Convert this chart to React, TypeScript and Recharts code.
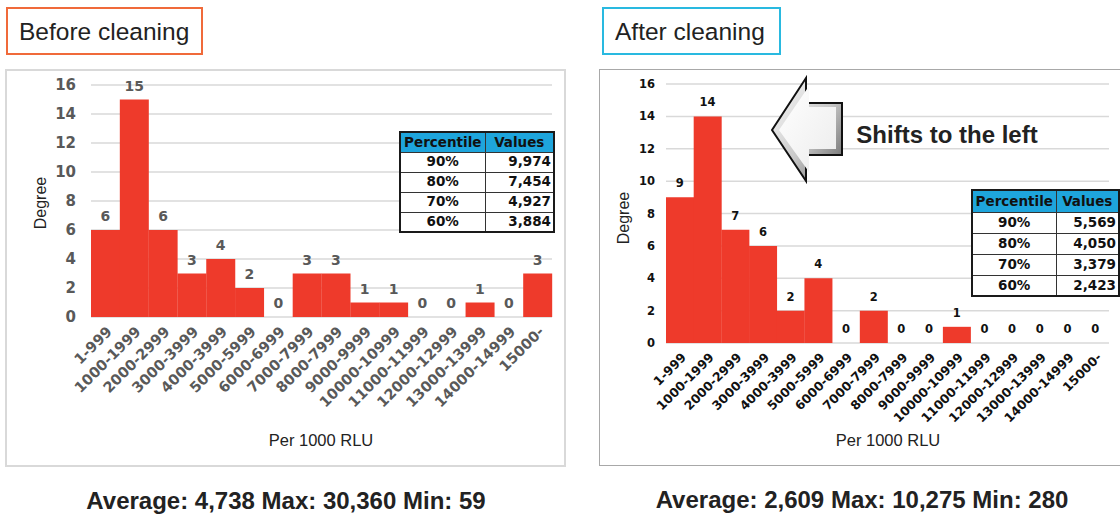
import React from 'react';
import { ComposedChart, Bar, Line, XAxis, YAxis, CartesianGrid, LabelList } from 'recharts';

const ranges = [
  '1-999', '1000-1999', '2000-2999', '3000-3999', '4000-3999', '5000-5999',
  '6000-6999', '7000-7999', '8000-7999', '9000-9999', '10000-10999',
  '11000-11999', '12000-12999', '13000-13999', '14000-14999', '15000-',
];
const beforeCounts = [6, 15, 6, 3, 4, 2, 0, 3, 3, 1, 1, 0, 0, 1, 0, 3];
const afterCounts = [9, 14, 7, 6, 2, 4, 0, 2, 0, 0, 1, 0, 0, 0, 0, 0];
const yTicks = [0, 2, 4, 6, 8, 10, 12, 14, 16];

const percentiles = ['90%', '80%', '70%', '60%'];
const beforePercentileValues = ['9,974', '7,454', '4,927', '3,884'];
const afterPercentileValues = ['5,569', '4,050', '3,379', '2,423'];

const beforeSummary = 'Average: 4,738 Max: 30,360 Min: 59';
const afterSummary = 'Average: 2,609 Max: 10,275 Min: 280';

const RED = '#ee3a2b';
const GRID = '#d9d9d9';
const SANS = '"Liberation Sans", Arial, sans-serif';
const AXIS_FONT = '"DejaVu Sans", Verdana, sans-serif';

const beforeData = ranges.map((range, i) => ({ range, count: beforeCounts[i] }));
const afterData = ranges.map((range, i) => ({ range, count: afterCounts[i] }));

function RangeTick(props: any) {
  const { x, y, payload, fontSize, fill } = props;
  const ax = x + 4;
  return (
    <text
      x={ax}
      y={y}
      transform={`rotate(-45 ${ax} ${y})`}
      textAnchor="end"
      dominantBaseline="central"
      fontSize={fontSize}
      fontWeight="bold"
      fontFamily={AXIS_FONT}
      fill={fill}
    >
      {payload.value}
    </text>
  );
}

function Histogram({ data, width, margin, tickMargin, xFont, yFont, labelFont, labelOffset, color }: any) {
  return (
    <ComposedChart
      width={width}
      height={480}
      data={data}
      margin={margin}
      barCategoryGap={0}
      barGap={0}
    >
      <CartesianGrid vertical={false} stroke={GRID} strokeWidth={1.5} />
      <XAxis
        dataKey="range"
        interval={0}
        axisLine={false}
        tickLine={false}
        tickSize={0}
        tickMargin={12}
        height={100}
        tick={(p: any) => <RangeTick {...p} fontSize={xFont} fill={color} />}
      />
      <YAxis
        domain={[0, 16]}
        ticks={yTicks}
        width={40}
        axisLine={false}
        tickLine={false}
        tickSize={0}
        tickMargin={tickMargin}
        tick={{ fill: color, fontSize: yFont, fontWeight: 'bold', fontFamily: AXIS_FONT }}
      />
      <Bar dataKey="count" fill={RED} isAnimationActive={false} />
      {/* invisible series so every count, zeros included, gets its label */}
      <Line
        dataKey="count"
        stroke="none"
        dot={false}
        activeDot={false}
        isAnimationActive={false}
      >
        <LabelList
          dataKey="count"
          position="top"
          offset={labelOffset}
          fill={color}
          fontSize={labelFont}
          fontWeight="bold"
          fontFamily={AXIS_FONT}
        />
      </Line>
    </ComposedChart>
  );
}

function PercentileTable({ values, left, top, rowH, headH, col1, col2 }: any) {
  const cell: React.CSSProperties = {
    border: '1px solid #333',
    padding: '0 2px',
    fontFamily: AXIS_FONT,
    fontWeight: 'bold',
    fontSize: 13.5,
    color: '#111',
    lineHeight: 1,
    overflow: 'hidden',
    whiteSpace: 'nowrap',
  };
  return (
    <table
      style={{
        position: 'absolute',
        left,
        top,
        width: col1 + col2,
        borderCollapse: 'collapse',
        border: '2px solid #1a1a1a',
        background: '#fff',
        tableLayout: 'fixed',
      }}
    >
      <colgroup>
        <col style={{ width: col1 }} />
        <col style={{ width: col2 }} />
      </colgroup>
      <tbody>
        <tr style={{ height: headH, background: '#1ea5dc' }}>
          <td style={{ ...cell, textAlign: 'center' }}>Percentile</td>
          <td style={{ ...cell, textAlign: 'center' }}>Values</td>
        </tr>
        {percentiles.map((p, i) => (
          <tr key={p} style={{ height: rowH }}>
            <td style={{ ...cell, textAlign: 'center' }}>{p}</td>
            <td style={{ ...cell, textAlign: 'right' }}>{values[i]}</td>
          </tr>
        ))}
      </tbody>
    </table>
  );
}

function TitleBox({ text, left, width, color }: any) {
  return (
    <div
      style={{
        position: 'absolute',
        left,
        top: 7,
        width,
        height: 48,
        boxSizing: 'border-box',
        border: `2px solid ${color}`,
        fontFamily: SANS,
        fontSize: 24.5,
        color: '#222',
        lineHeight: '46px',
        paddingLeft: 11,
        whiteSpace: 'nowrap',
      }}
    >
      {text}
    </div>
  );
}

function AbsText({ text, x, y, size, bold, rotate }: any) {
  return (
    <div
      style={{
        position: 'absolute',
        left: x,
        top: y,
        transform: `translate(-50%, -50%)${rotate ? ' rotate(-90deg)' : ''}`,
        fontFamily: SANS,
        fontSize: size,
        fontWeight: bold ? 'bold' : 'normal',
        color: '#222',
        whiteSpace: 'nowrap',
        lineHeight: 1.15,
      }}
    >
      {text}
    </div>
  );
}

// Block arrow pointing left: white face with a grey bevel on the lower/right sides
function LeftArrow() {
  const outer = '772,130 806,78 806,103 842,103 842,155 806,155 806,181';
  const face = '779,130 809,86 809,107 836,107 836,149 809,149 809,172';
  return (
    <svg style={{ position: 'absolute', left: 0, top: 0 }} width={1120} height={515}>
      <defs>
        <linearGradient id="arrowEdge" x1="0" y1="0" x2="1" y2="1">
          <stop offset="0%" stopColor="#ffffff" />
          <stop offset="55%" stopColor="#c8c8c8" />
          <stop offset="100%" stopColor="#5e5e5e" />
        </linearGradient>
        <linearGradient id="arrowFace" x1="0" y1="0" x2="1" y2="1">
          <stop offset="0%" stopColor="#ffffff" />
          <stop offset="100%" stopColor="#ececec" />
        </linearGradient>
      </defs>
      <polygon points={outer} fill="url(#arrowEdge)" stroke="#111" strokeWidth={2} />
      <polygon points={face} fill="url(#arrowFace)" />
    </svg>
  );
}

export default function App() {
  return (
    <div
      style={{
        position: 'absolute',
        left: 0,
        top: 0,
        width: 1120,
        height: 515,
        overflow: 'hidden',
        background: '#fff',
      }}
    >
      {/* Before cleaning */}
      <TitleBox text="Before cleaning" left={6} width={197} color="#f06a3a" />
      <div
        style={{
          position: 'absolute',
          left: 5,
          top: 69,
          width: 561,
          height: 398,
          boxSizing: 'border-box',
          border: `2px solid ${GRID}`,
        }}
      />
      <div style={{ position: 'absolute', left: 0, top: 0 }}>
        <Histogram
          data={beforeData}
          width={570}
          margin={{ top: 85, right: 18, left: 51, bottom: 63 }}
          tickMargin={15}
          xFont={14.5}
          yFont={15}
          labelFont={14}
          labelOffset={9}
          color="#595959"
        />
      </div>
      <PercentileTable values={beforePercentileValues} left={399} top={131} headH={20} rowH={20} col1={85} col2={69} />
      <AbsText text="Degree" x={41} y={203} size={16} rotate />
      <AbsText text="Per 1000 RLU" x={321} y={440} size={16.5} />
      <AbsText text={beforeSummary} x={286} y={501} size={24} bold />

      {/* After cleaning */}
      <TitleBox text="After cleaning" left={602} width={179} color="#29b9e0" />
      <div
        style={{
          position: 'absolute',
          left: 599,
          top: 69,
          width: 600,
          height: 397,
          boxSizing: 'border-box',
          border: '1.5px solid #a8a8a8',
        }}
      />
      <div style={{ position: 'absolute', left: 595, top: 0 }}>
        <Histogram
          data={afterData}
          width={525}
          margin={{ top: 84, right: 11, left: 31, bottom: 37 }}
          tickMargin={11}
          xFont={12.5}
          yFont={11.5}
          labelFont={11.5}
          labelOffset={10}
          color="#111"
        />
      </div>
      <LeftArrow />
      <AbsText text="Shifts to the left" x={947} y={135} size={24} bold />
      <PercentileTable values={afterPercentileValues} left={971} top={189} headH={22} rowH={21} col1={84} col2={63} />
      <AbsText text="Degree" x={624} y={218} size={16} rotate />
      <AbsText text="Per 1000 RLU" x={888} y={440} size={16.5} />
      <AbsText text={afterSummary} x={862} y={500} size={24} bold />
    </div>
  );
}
